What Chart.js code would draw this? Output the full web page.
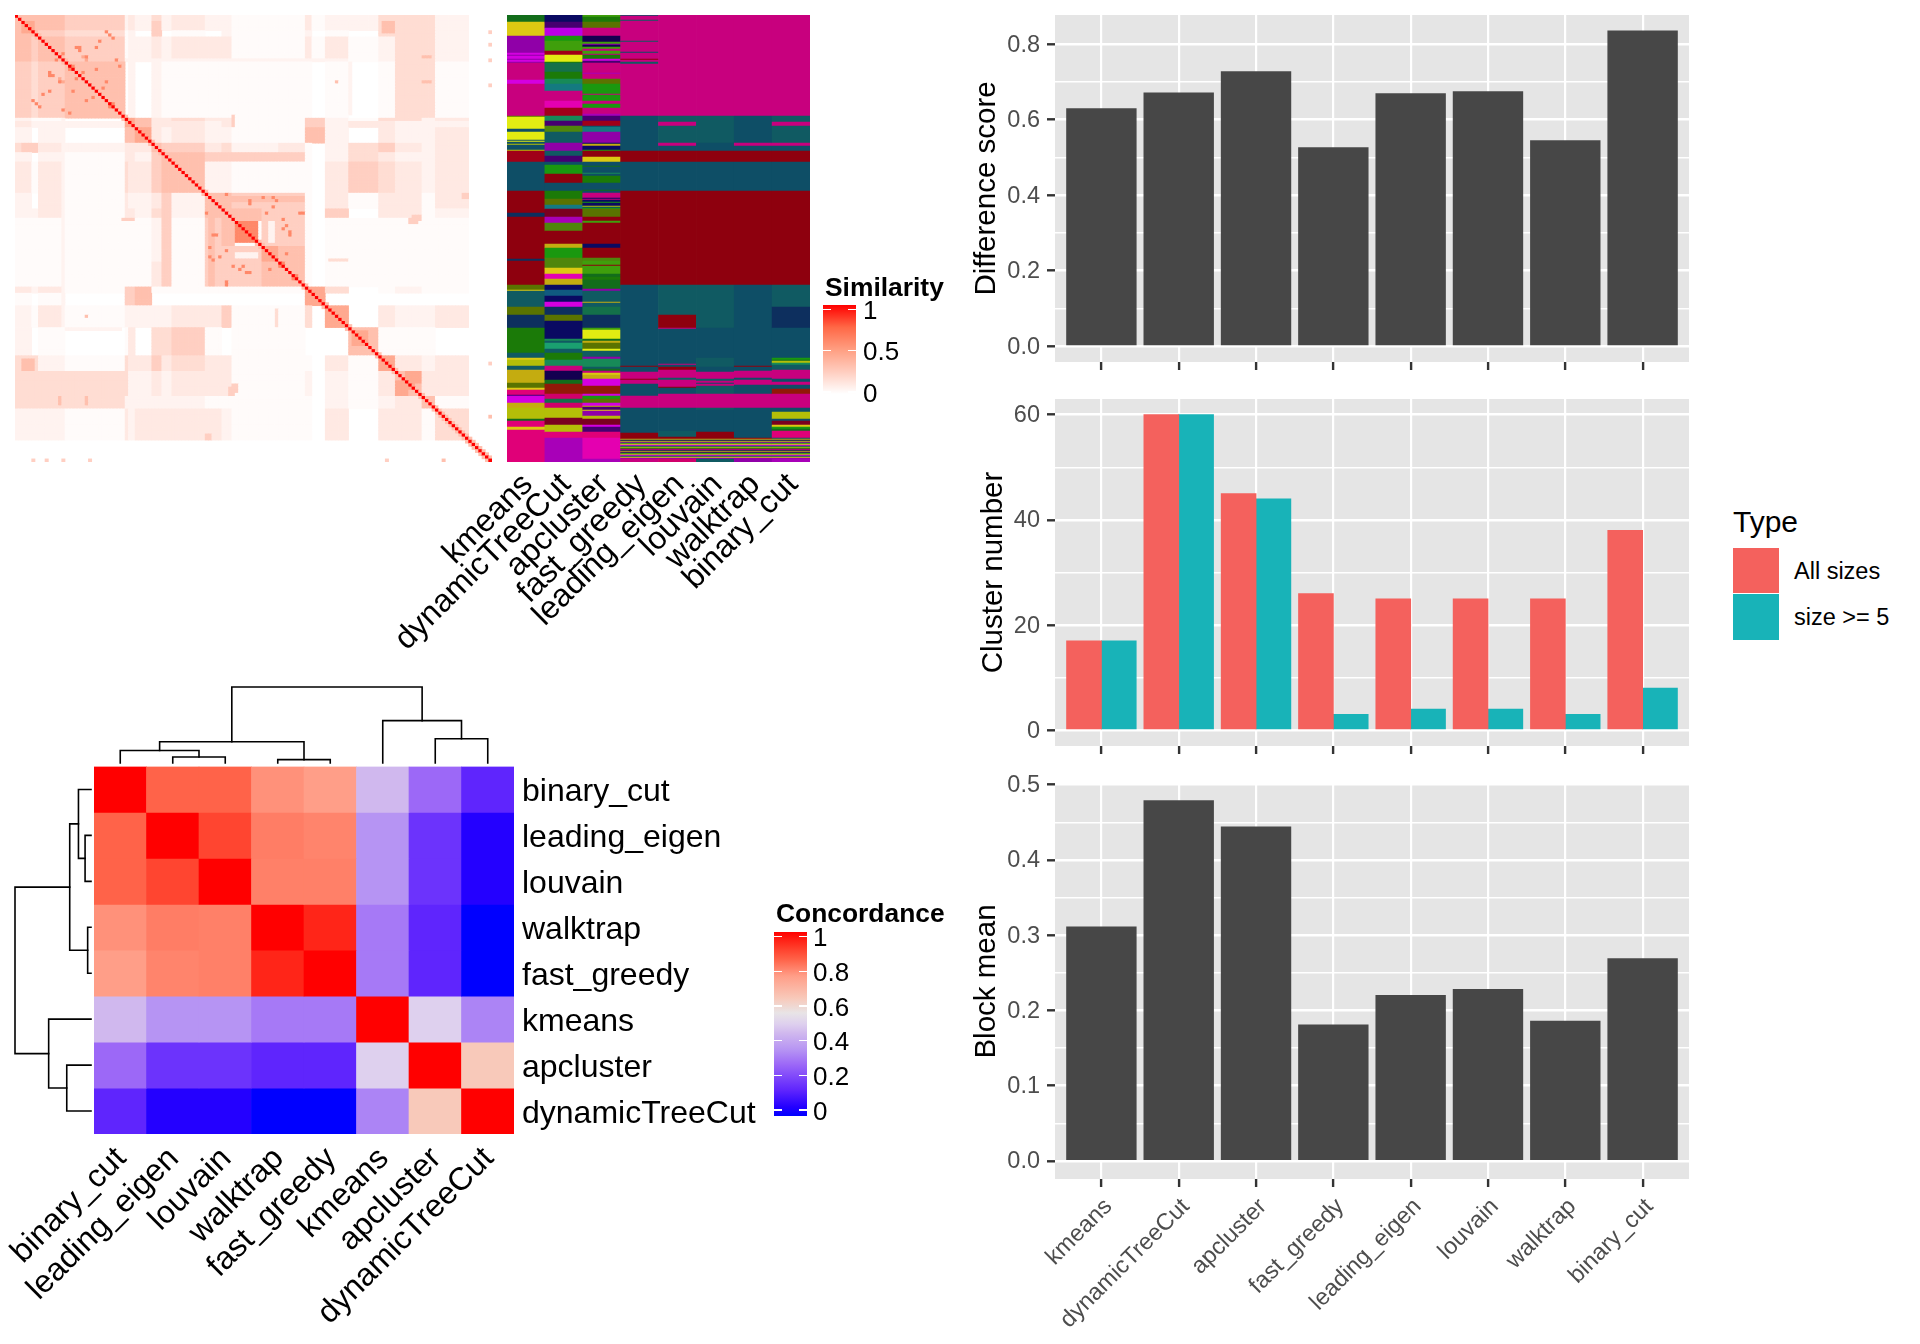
<!DOCTYPE html>
<html><head><meta charset="utf-8">
<script src="https://cdn.jsdelivr.net/npm/chart.js@4/dist/chart.umd.min.js"></script>
<style>
html,body{margin:0;padding:0;background:#fff;}
#page{position:relative;width:1920px;height:1344px;overflow:hidden;background:#fff;font-family:"Liberation Sans",Arial,sans-serif;}
#page canvas{position:absolute;display:block;}
.t{position:absolute;line-height:1;white-space:nowrap;color:#000;}
.b{position:absolute;}
</style></head><body><div id="page"></div>
<script>
// ---------- data ----------
const methods = ['kmeans','dynamicTreeCut','apcluster','fast_greedy','leading_eigen','louvain','walktrap','binary_cut'];
const differenceScore = [0.629,0.671,0.727,0.526,0.669,0.674,0.544,0.835];
const clusterAllSizes = [17,60,45,26,25,25,25,38];
const clusterSizeGe5 = [17,60,44,3,4,4,3,8];
const blockMean = [0.311,0.479,0.444,0.181,0.220,0.228,0.186,0.269];
const typeNames = ['All sizes','size >= 5'];

const concordanceOrder = ['binary_cut','leading_eigen','louvain','walktrap','fast_greedy','kmeans','apcluster','dynamicTreeCut'];
const concordance = [
 [1.00,0.85,0.85,0.78,0.76,0.45,0.28,0.14],
 [0.85,1.00,0.90,0.81,0.80,0.36,0.17,0.05],
 [0.85,0.90,1.00,0.805,0.805,0.36,0.17,0.05],
 [0.78,0.81,0.805,1.00,0.95,0.31,0.14,0.00],
 [0.76,0.80,0.805,0.95,1.00,0.31,0.14,0.00],
 [0.45,0.36,0.36,0.31,0.31,1.00,0.50,0.33],
 [0.28,0.17,0.17,0.14,0.14,0.50,1.00,0.64],
 [0.14,0.05,0.05,0.00,0.00,0.33,0.64,1.00]];
// dendrogram merges: [childA, childB, height]; child < 8 is a leaf, otherwise 8 + merge number
const dendrogramMerges = [[1,2,0.078],[3,4,0.044],[0,8,0.165],[6,7,0.319],[10,9,0.280],[5,11,0.557],[12,13,1.0]];

// similarity matrix, read as blocks: last item of each block, then block-to-block levels
const simBlockEnds = [5,7,15,33,34,36,41,44,47,57,62,65,74,79,87,89,93,100,109,114,122,126,136,143];
const simLevelValues = [0,0.02,0.06,0.11,0.17,0.24,0.32,0.44,0.6,0.8];
const simLevels = [
 [6,6,6,5,2,3,2,4,2,3,2,2,1,1,1,3,1,2,2,4,4,4,2,0],
 [6,6,5,4,1,2,0,3,0,1,0,2,1,1,1,2,0,1,0,4,4,4,2,0],
 [6,5,6,5,1,2,2,3,2,3,3,3,1,1,1,3,1,3,1,2,4,4,2,0],
 [5,4,5,6,0,2,0,2,1,1,1,1,1,1,1,1,0,1,0,1,4,4,1,0],
 [2,1,1,0,7,7,6,3,3,4,3,3,1,1,1,5,5,2,1,4,4,2,3,0],
 [3,2,2,2,7,7,6,3,3,3,2,3,1,1,1,5,5,2,3,3,2,2,2,0],
 [2,0,2,0,6,6,7,3,2,3,2,2,1,1,1,6,6,2,0,3,2,2,3,0],
 [4,3,3,2,3,3,3,6,5,5,3,4,2,2,3,1,0,2,4,5,3,2,3,0],
 [2,0,2,1,3,3,2,5,6,6,5,5,5,5,5,1,0,2,4,3,2,2,3,0],
 [3,1,3,1,4,3,3,5,6,6,2,2,1,1,1,1,0,3,5,4,3,2,3,0],
 [2,0,3,1,3,2,2,3,5,2,6,6,5,5,5,1,0,3,1,3,3,1,3,0],
 [2,2,3,1,3,3,2,4,5,2,6,6,6,5,5,1,0,5,0,3,3,1,2,0],
 [1,1,1,1,1,1,1,2,5,1,5,6,8,5,5,1,0,1,1,1,1,1,1,0],
 [1,1,1,1,1,1,1,2,5,1,5,5,5,7,6,1,0,1,1,1,1,1,1,0],
 [1,1,1,1,1,1,1,3,5,1,5,5,5,6,6,1,0,1,1,1,1,1,1,0],
 [3,2,3,1,5,5,6,1,1,1,1,1,1,1,1,7,7,4,0,1,2,1,1,0],
 [1,0,1,0,5,5,6,0,0,0,0,0,0,0,0,7,7,0,0,0,0,0,0,0],
 [2,1,3,1,2,2,2,2,2,3,3,5,1,1,1,4,0,7,0,3,2,2,3,0],
 [2,0,1,0,1,3,0,4,4,5,1,0,1,1,1,0,0,0,6,1,1,1,0,0],
 [4,4,2,1,4,3,3,5,3,4,3,3,1,1,1,1,0,3,1,7,3,2,3,0],
 [4,4,4,4,4,2,2,3,2,3,3,3,1,1,1,2,0,2,1,3,7,3,3,0],
 [4,4,4,4,2,2,2,2,2,2,1,1,1,1,1,1,0,2,1,2,3,6,1,0],
 [2,2,2,1,3,2,3,3,3,3,3,2,1,1,1,1,0,3,0,3,3,1,4,0],
 [0,0,0,0,0,0,0,0,0,0,0,0,0,0,0,0,0,0,0,0,0,0,0,0]];
// stronger or paler patches: [itemA from, to, itemB from, to, level] (mirrored over the diagonal)
const simPatches = [
 [2,6,2,6,7],[110,114,2,6,6],[41,44,2,7,5],[66,74,66,74,8],[74,78,75,78,7],[120,122,118,121,6],
 [114,117,114,117,6],[13,15,21,22,7],[20,22,13,14,7],[122,125,13,14,6],[122,125,21,22,6],[96,97,21,22,6],
 [65,66,32,36,5],[134,136,57,58,6],[119,122,64,66,5],[57,59,134,136,5],[65,67,118,121,5],[78,79,94,100,4],
 [5,6,142,143,5],[9,10,142,143,5],[14,15,142,143,5],[22,23,142,143,5],[111,112,142,143,5],[128,129,142,143,6],
 [142,143,142,143,6],[131,133,131,133,6],[134,136,134,136,6],[94,99,94,99,7],[101,106,101,106,7],
 [33,100,14,15,2],[100,101,15,32,2],[57,87,58,60,6],[65,66,66,74,6],[76,78,66,73,2],[66,73,73,74,1]];
// single strong cells seen in the dense blocks: [itemA, itemB]
const simSpots = [[21,13],[13,21],[19,11],[10,18],[16,17],[18,20],[7,29],[14,30],[28,29],[30,30],[25,8],[28,6],[27,5],[19,10],[12,14],[10,24],[24,17],[26,23],[21,27],[16,31],
 [57,63],[60,70],[61,77],[65,80],[67,81],[69,82],[63,86],[80,68],[82,70],[81,76],[79,80],[83,84],[75,63],[77,58],[70,59],[85,63],[59,78],[58,74]];
const simAxisSize = 143;

// cluster membership along the terms, per method: [last row of band, cluster colour key]
const classRowCount = 447;
const kmeansBands = [[7,'D'],[21,'Y'],[38,'V'],[40,'M'],[41,'V'],[44,'M'],[45,'V'],[47,'M'],[48,'V'],[65,'P'],[69,'M'],[101,'P'],[102,'W'],[114,'L'],[117,'T'],[125,'L'],[126,'T'],[127,'L'],[129,'T'],[130,'O'],[135,'T'],[136,'O'],[147,'S'],[176,'T'],[198,'R'],[202,'B'],[244,'R'],[246,'B'],[270,'R'],[275,'W'],[276,'Y'],[292,'U'],[300,'W'],[313,'B'],[338,'E'],[343,'U'],[345,'Y'],[351,'O'],[355,'U'],[368,'G'],[373,'W'],[375,'Y'],[380,'Q'],[381,'I'],[388,'M'],[393,'G'],[404,'O'],[406,'D'],[412,'Q'],[415,'Y'],[417,'Q'],[447,'Q']];
const treeCutBands = [[7,'N'],[13,'I'],[21,'m'],[26,'F'],[36,'H'],[40,'S'],[47,'L'],[48,'E'],[57,'g'],[64,'E'],[69,'X'],[76,'Z'],[86,'P'],[93,'A'],[101,'S'],[106,'X'],[111,'I'],[117,'h'],[128,'U'],[136,'V'],[141,'U'],[147,'I'],[150,'T'],[159,'F'],[168,'R'],[176,'T'],[184,'E'],[190,'W'],[194,'Z'],[202,'K'],[208,'C'],[216,'h'],[229,'R'],[233,'G'],[243,'F'],[253,'h'],[259,'Y'],[264,'A'],[270,'G'],[275,'N'],[281,'b'],[287,'N'],[292,'M'],[300,'B'],[306,'W'],[324,'N'],[326,'X'],[328,'U'],[334,'s'],[338,'U'],[345,'E'],[351,'X'],[356,'P'],[365,'i'],[369,'D'],[379,'J'],[384,'c'],[388,'g'],[393,'c'],[403,'O'],[410,'K'],[417,'O'],[423,'Q'],[447,'C']];
const apclusterBands = [[2,'H'],[7,'E'],[13,'W'],[21,'P'],[27,'i'],[29,'H'],[30,'V'],[32,'i'],[34,'H'],[36,'P'],[39,'H'],[40,'P'],[44,'E'],[46,'M'],[48,'I'],[58,'P'],[59,'C'],[64,'P'],[69,'W'],[79,'F'],[80,'P'],[86,'F'],[89,'P'],[93,'F'],[99,'P'],[101,'C'],[106,'I'],[111,'S'],[112,'T'],[117,'Z'],[128,'V'],[129,'N'],[131,'G'],[135,'N'],[136,'F'],[142,'R'],[147,'Y'],[151,'T'],[152,'D'],[158,'T'],[159,'X'],[161,'T'],[168,'E'],[175,'T'],[176,'D'],[178,'T'],[183,'P'],[184,'N'],[185,'P'],[187,'N'],[188,'F'],[191,'N'],[192,'O'],[193,'T'],[194,'F'],[202,'W'],[206,'R'],[208,'H'],[229,'R'],[233,'N'],[243,'R'],[246,'h'],[250,'H'],[251,'R'],[259,'H'],[262,'D'],[265,'E'],[274,'D'],[276,'V'],[287,'U'],[288,'G'],[292,'U'],[300,'g'],[313,'B'],[315,'H'],[324,'L'],[326,'D'],[328,'G'],[334,'W'],[336,'L'],[342,'U'],[344,'V'],[352,'X'],[354,'U'],[356,'D'],[358,'P'],[360,'Y'],[364,'G'],[371,'M'],[379,'J'],[381,'M'],[384,'F'],[388,'W'],[391,'M'],[392,'G'],[395,'I'],[396,'Y'],[401,'V'],[404,'O'],[410,'K'],[412,'M'],[417,'I'],[423,'Q'],[444,'A'],[447,'C']];
const stripeKeys = 'GNOVFYMTOEQNGIFOMTYV';
const fastGreedyBands = [[1,'T'],[5,'P'],[6,'U'],[26,'P'],[27,'U'],[37,'P'],[38,'T'],[44,'P'],[45,'R'],[47,'P'],[49,'U'],[101,'P'],[136,'T'],[147,'R'],[176,'T'],[270,'R'],[351,'T'],[352,'R'],[357,'T'],[364,'P'],[365,'R'],[369,'P'],[381,'T'],[393,'P'],[418,'T'],[424,'R'],['stripes'],[447,'P']];
const leadingEigenBands = [[101,'P'],[107,'U'],[111,'P'],[128,'U'],[131,'P'],[136,'T'],[147,'R'],[176,'T'],[270,'R'],[300,'U'],[313,'R'],[314,'P'],[349,'T'],[350,'P'],[352,'T'],[355,'R'],[363,'P'],[365,'U'],[372,'P'],[373,'R'],[379,'T'],[393,'P'],[416,'T'],[422,'U'],[424,'R'],['stripes'],[447,'c']];
const louvainBands = [[101,'P'],[128,'U'],[136,'T'],[147,'R'],[176,'T'],[270,'R'],[313,'U'],[343,'T'],[352,'U'],[357,'T'],[364,'P'],[366,'U'],[368,'P'],[369,'T'],[371,'P'],[379,'U'],[393,'P'],[395,'U'],[417,'T'],[424,'R'],['stripes'],[447,'U']];
const walktrapBands = [[101,'P'],[128,'T'],[131,'P'],[136,'T'],[147,'R'],[176,'T'],[270,'R'],[351,'T'],[352,'R'],[356,'T'],[363,'P'],[365,'T'],[370,'P'],[379,'T'],[393,'P'],[423,'T'],[424,'R'],['stripes'],[447,'V']];
const binaryCutBands = [[101,'P'],[107,'U'],[111,'P'],[128,'U'],[131,'P'],[136,'T'],[147,'R'],[176,'T'],[270,'R'],[292,'U'],[313,'B'],[343,'T'],[345,'F'],[346,'D'],[348,'O'],[350,'X'],[355,'U'],[364,'P'],[367,'T'],[370,'P'],[374,'T'],[379,'J'],[393,'P'],[397,'T'],[404,'O'],[406,'T'],[410,'K'],[412,'Y'],[414,'F'],[416,'D'],[423,'Q'],[424,'T'],['stripes'],[447,'C']];
const classBands = [kmeansBands,treeCutBands,apclusterBands,fastGreedyBands,leadingEigenBands,louvainBands,walktrapBands,binaryCutBands];

// ---------- styles ----------
const FONT = '"Liberation Sans", Arial, sans-serif';
const clusterColors = {P:'#C8007E',Q:'#E00078',M:'#D400E0',A:'#E400B0',V:'#9000A8',C:'#A800B8',L:'#E2EC12',Y:'#DCC912',G:'#C4AC10',O:'#B4BE08',W:'#5A7300',H:'#3F9F0C',F:'#1A980F',E:'#1B7A08',D:'#136D1B',X:'#178A58',Z:'#147A80',U:'#105A62',T:'#0E4E66',B:'#0D2F5E',N:'#0A0A62',I:'#460070',i:'#140050',R:'#8E000E',S:'#A00018',K:'#7A0020',J:'#921808',c:'#D0006A',g:'#14704A',b:'#105A80',s:'#1AA070',m:'#BC00E8',h:'#4F860C'};
const similarityStops = [[0,'#FFFFFF'],[0.25,'#FFCDBF'],[0.5,'#FF9E81'],[0.75,'#FF6846'],[1,'#FF0000']];
const concordanceStops = [[0,'#0000FF'],[0.05,'#2400FF'],[0.14,'#5F25FD'],[0.17,'#6C33FC'],[0.28,'#9C68F7'],[0.36,'#B694F3'],[0.45,'#D0B8EE'],[0.5,'#DED0EE'],[0.56,'#E8E4E6'],[0.64,'#F8C9BA'],[0.76,'#FF9E88'],[0.85,'#FF6349'],[0.9,'#FF4530'],[0.95,'#FF2518'],[1,'#FF0000']];
const typeColors = ['#F4615D','#18B3B8'];
const barGrey = '#474747', panelGrey = '#E5E5E5', tickText = '#4D4D4D', tickMark = '#333333';

function hexRgb(h){return [1,3,5].map(i=>parseInt(h.substr(i,2),16));}
function rampColor(stops,v){
  for(let i=1;i<stops.length;i++){ if(v<=stops[i][0]){
    const a=stops[i-1],b=stops[i],f=(v-a[0])/(b[0]-a[0]),ca=hexRgb(a[1]),cb=hexRgb(b[1]);
    return 'rgb('+ca.map((c,k)=>Math.round(c+(cb[k]-c)*f)).join(',')+')';}}
  return stops[stops.length-1][1];
}
const page=document.getElementById('page');
function canvas(l,t,w,h){const c=document.createElement('canvas');c.width=w;c.height=h;c.style.cssText=`left:${l}px;top:${t}px;width:${w}px;height:${h}px`;page.appendChild(c);return c;}
function text(s,x,y,size,bold,color){const d=document.createElement('div');d.className='t';d.textContent=s;d.style.cssText=`left:${x}px;top:${y}px;font-size:${size}px;${bold?'font-weight:bold;':''}${color?'color:'+color+';':''}`;page.appendChild(d);}
function rect(x,y,w,h,bg){const d=document.createElement('div');d.className='b';d.style.cssText=`left:${x}px;top:${y}px;width:${w}px;height:${h}px;background:${bg}`;page.appendChild(d);}
const base={responsive:false,animation:false,devicePixelRatio:1,events:[],plugins:{legend:{display:false},tooltip:{enabled:false},title:{display:false}}};
function opts(o){return Object.assign({},base,o);}
const hiddenAxis=(min,max,reverse)=>({type:'linear',display:false,offset:false,min,max,reverse:!!reverse,grid:{display:false}});
const panelBg={id:'panelBg',beforeDraw(ch){const a=ch.chartArea,x=ch.ctx;x.save();x.fillStyle=panelGrey;x.fillRect(a.left,a.top,a.right-a.left,a.bottom-a.top);x.restore();}};

// ---------- similarity heatmap ----------
(function(){
  const blockOf=i=>simBlockEnds.findIndex(e=>i<e);
  const m=[];
  for(let r=0;r<simAxisSize;r++){m.push([]);for(let c=0;c<simAxisSize;c++)m[r].push(simLevelValues[simLevels[blockOf(r)][blockOf(c)]]);}
  simPatches.forEach(([a0,a1,b0,b1,l])=>{const v=simLevelValues[l];
    for(let a=a0;a<a1;a++)for(let b=b0;b<b1;b++){m[b][a]=v;m[a][b]=v;}});
  simSpots.forEach(([a,b])=>{m[a][b]=simLevelValues[8];m[b][a]=simLevelValues[8];});
  for(let i=0;i<simAxisSize;i++){m[i][i]=1;if(i+1<simAxisSize){m[i][i+1]=Math.max(m[i][i+1],0.32);m[i+1][i]=Math.max(m[i+1][i],0.32);}}
  const pts=[];
  m.forEach((row,r)=>row.forEach((v,c)=>{if(v>0)pts.push({x:c+0.5,y:[r,r+1],v});}));
  new Chart(canvas(15,15,477,447),{type:'bar',data:{datasets:[{data:pts,grouped:false,barPercentage:1,categoryPercentage:1,borderWidth:0,
    backgroundColor:ctx=>ctx.raw?rampColor(similarityStops,ctx.raw.v):'#fff'}]},
    options:opts({normalized:true,scales:{x:hiddenAxis(0,simAxisSize),y:hiddenAxis(0,simAxisSize,true)}})});
})();

// ---------- cluster membership heatmap ----------
(function(){
  const pts=[];
  classBands.forEach((bands,j)=>{let prev=0;
    bands.forEach(b=>{
      if(b[0]==='stripes'){for(const k of stripeKeys){pts.push({x:methods[j],y:[prev,prev+1],k});prev+=1;}return;}
      pts.push({x:methods[j],y:[prev,b[0]],k:b[1]});prev=b[0];});});
  const c=canvas(360,0,470,720);
  new Chart(c,{type:'bar',data:{labels:methods,datasets:[{data:pts,grouped:false,barPercentage:1,categoryPercentage:1,borderWidth:0,
    backgroundColor:ctx=>ctx.raw?clusterColors[ctx.raw.k]:'#fff'}]},
    options:opts({layout:{padding:{left:147,right:20,top:15,bottom:0}},scales:{
      x:{type:'category',grid:{display:false,drawTicks:false},border:{display:false},
         ticks:{autoSkip:false,minRotation:45,maxRotation:45,padding:4,labelOffset:2,color:'#000',font:{family:FONT,size:32}},
         afterFit(s){s.height=720-462;s.paddingLeft=0;s.paddingRight=0;}},
      y:hiddenAxis(0,classRowCount,true)}})});
})();
text('Similarity',825,273.5,26.4,true);
function colourbar(x0,y0,w,h,stops,vmin,vmax,ticks,labelX,yAt){
  const grad=stops.map(s=>rampColor(stops,s[0])+' '+(100*(1-(s[0]-vmin)/(vmax-vmin)))+'%').reverse();
  rect(x0,y0,w,h,'linear-gradient(to bottom,'+grad.join(',')+')');
  ticks.forEach(t=>{const y=yAt(t);
    rect(x0,y-0.75,8,1.5,'#fff');rect(x0+w-8,y-0.75,8,1.5,'#fff');
    text(String(t),labelX,y-12.5,26);});
}
colourbar(823,305,33,88.5,similarityStops,0,1,[0,0.5,1],863,t=>392-82.7*t);

// ---------- concordance heatmap ----------
(function(){
  const ds=concordance.map((row,i)=>({data:row.map(()=>[i,i+1]),grouped:false,barPercentage:1,categoryPercentage:1,borderWidth:0,
    backgroundColor:row.map(v=>rampColor(concordanceStops,v))}));
  const n=concordanceOrder.length;
  new Chart(canvas(0,740,800,604),{type:'bar',data:{labels:concordanceOrder,datasets:ds},
    options:opts({layout:{padding:{left:94,right:0,top:26.5,bottom:0}},scales:{
      x:{type:'category',grid:{display:false,drawTicks:false},border:{display:false},
         ticks:{autoSkip:false,minRotation:45,maxRotation:45,padding:6,labelOffset:1,color:'#000',font:{family:FONT,size:32}},
         afterFit(s){s.height=604-394;s.paddingLeft=0;s.paddingRight=0;}},
      y:{type:'linear',position:'right',min:0,max:n,reverse:true,grid:{display:false,drawTicks:false},border:{display:false},
         afterBuildTicks(s){s.ticks=concordanceOrder.map((_,i)=>({value:i+0.5}));},
         ticks:{padding:8,labelOffset:3,color:'#000',font:{family:FONT,size:32},callback:v=>concordanceOrder[Math.floor(v)]},
         afterFit(s){s.width=800-514;s.paddingTop=0;s.paddingBottom=0;}}}})});
})();
// dendrograms
function dendroSegments(){
  const pos=[0,1,2,3,4,5,6,7].map(i=>i+0.5),ht=new Array(8).fill(0),segs=[];
  dendrogramMerges.forEach(([a,b,h])=>{
    segs.push([[pos[a],ht[a]],[pos[a],h],[pos[b],h],[pos[b],ht[b]]]);
    pos.push((pos[a]+pos[b])/2);ht.push(h);});
  return segs;
}
const dendroStyle={showLine:true,pointRadius:0,borderColor:'#000',borderWidth:1.6,tension:0,clip:false,borderCapStyle:'square'};
new Chart(canvas(94,680,420,84),{type:'scatter',data:{datasets:dendroSegments().map(s=>Object.assign({data:s.map(p=>({x:p[0],y:p[1]}))},dendroStyle))},
  options:opts({layout:{padding:{top:7,bottom:1,left:0,right:0}},scales:{x:hiddenAxis(0,8),y:hiddenAxis(0,1)}})});
new Chart(canvas(14,766,78,368),{type:'scatter',data:{datasets:dendroSegments().map(s=>Object.assign({data:s.map(p=>({x:p[1],y:p[0]}))},dendroStyle))},
  options:opts({layout:{padding:{top:0.5,bottom:0,left:1,right:1}},scales:{x:hiddenAxis(0,1,true),y:hiddenAxis(0,8,true)}})});
text('Concordance',776,899.5,26.4,true);
colourbar(774,932,33,184,concordanceStops,0,1,[0,0.2,0.4,0.6,0.8,1],813,t=>1110-173.3*t);

// ---------- ggplot-style bar panels ----------
function barPanel(p){
  const near=(v,list)=>list.some(m=>Math.abs(m-v)<1e-9);
  const chart=new Chart(canvas(p.left,p.top-10,1689-p.left,p.bottom-p.top+10+p.xHeight),{type:'bar',
    data:{datasets:p.series.map((s,i)=>({data:s.map((v,j)=>({x:j+1,y:v})),backgroundColor:p.colors[i],borderWidth:0,barPercentage:1,categoryPercentage:0.9,inflateAmount:0.4}))},
    plugins:[panelBg],
    options:opts({layout:{padding:{top:10,left:0,right:0,bottom:0}},scales:{
      x:{type:'linear',offset:false,min:0.4,max:8.6,border:{display:false},
         afterBuildTicks(s){s.ticks=methods.map((_,i)=>({value:i+1}));},
         grid:{offset:false,color:'#fff',lineWidth:2.2,tickColor:tickMark,tickWidth:2.4,tickLength:8},
         ticks:{display:p.showLabels,autoSkip:false,minRotation:45,maxRotation:45,padding:6,labelOffset:7,color:tickText,font:{family:FONT,size:23.5},callback:v=>methods[v-1]},
         afterFit(s){s.height=p.xHeight;s.paddingLeft=0;s.paddingRight=0;}},
      y:{type:'linear',min:p.ymin,max:p.ymax,border:{display:false},
         afterBuildTicks(s){s.ticks=p.yGrid.map(v=>({value:v}));},
         grid:{color:'#fff',lineWidth:c=>near(c.tick.value,p.yMajor)?2.6:1.4,
               tickColor:c=>near(c.tick.value,p.yMajor)?tickMark:'rgba(0,0,0,0)',tickWidth:2.4,tickLength:8},
         title:{display:true,text:p.title,color:'#000',font:{family:FONT,size:29.5},padding:0},
         ticks:{autoSkip:false,padding:7,labelOffset:1,color:tickText,font:{family:FONT,size:23.5},
                callback:v=>near(v,p.yMajor)?v.toFixed(p.decimals):''},
         afterFit(s){s.width=1055-p.left;s.paddingTop=0;s.paddingBottom=0;}}}})});
  return chart;
}
const diffGrid=[0,0.1,0.2,0.3,0.4,0.5,0.6,0.7,0.8],clusterGrid=[0,10,20,30,40,50,60],blockGrid=[0,0.05,0.1,0.15,0.2,0.25,0.3,0.35,0.4,0.45,0.5];
barPanel({left:969,top:15,bottom:362,xHeight:15,ymin:-0.0418,ymax:0.877,yGrid:diffGrid,yMajor:[0,0.2,0.4,0.6,0.8],decimals:1,title:'Difference score',series:[differenceScore],colors:[barGrey],showLabels:false});
barPanel({left:976,top:399,bottom:746,xHeight:15,ymin:-3,ymax:63,yGrid:clusterGrid,yMajor:[0,20,40,60],decimals:0,title:'Cluster number',series:[clusterAllSizes,clusterSizeGe5],colors:typeColors,showLabels:false});
barPanel({left:969,top:784,bottom:1179,xHeight:165,ymin:-0.0239,ymax:0.501,yGrid:blockGrid,yMajor:[0,0.1,0.2,0.3,0.4,0.5],decimals:1,title:'Block mean',series:[blockMean],colors:[barGrey],showLabels:true});

// legend
text('Type',1733,507,30);
typeNames.forEach((n,i)=>{rect(1733,548+i*46,46,i?46:45,typeColors[i]);text(n,1794,560+i*46,23.5);});
</script></body></html>
